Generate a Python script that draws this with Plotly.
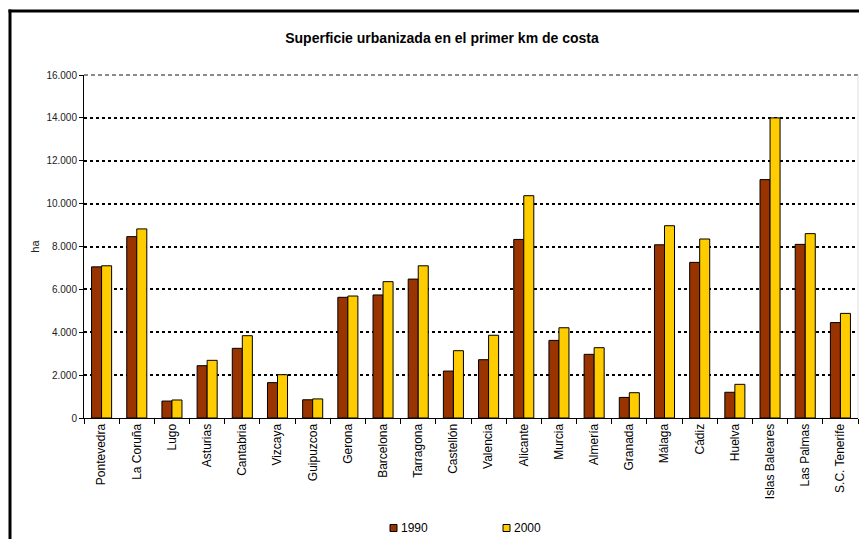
import plotly.graph_objects as go

provinces = ["Pontevedra", "La Coruña", "Lugo", "Asturias", "Cantabria", "Vizcaya",
             "Guipuzcoa", "Gerona", "Barcelona", "Tarragona", "Castellón", "Valencia",
             "Alicante", "Murcia", "Almería", "Granada", "Málaga", "Cádiz", "Huelva",
             "Islas Baleares", "Las Palmas", "S.C. Tenerife"]
v1990 = [7050, 8460, 790, 2440, 3250, 1650, 850, 5630, 5740, 6480, 2190, 2720,
         8330, 3620, 2970, 960, 8080, 7260, 1200, 11120, 8100, 4450]
v2000 = [7100, 8820, 840, 2690, 3840, 2020, 890, 5690, 6360, 7100, 3140, 3860,
         10370, 4210, 3280, 1180, 8970, 8350, 1570, 14000, 8600, 4880]
y_ticks = [0, 2000, 4000, 6000, 8000, 10000, 12000, 14000, 16000]
series_names = ["1990", "2000"]
series_colors = ["#993300", "#FFCC00"]

FONT = "Arial, Liberation Sans, sans-serif"

fig = go.Figure()
for name, vals, col in zip(series_names, [v1990, v2000], series_colors):
    fig.add_trace(go.Bar(name=name, x=provinces, y=vals, showlegend=False,
                         marker=dict(color=col, line=dict(color="black", width=1))))

W, H = 859, 539
L, R, T, B = 84, 1, 75, 121
pw = W - L - R
ph = H - T - B


def px(x):
    return (x - L) / pw


def py(y):
    return (H - B - y) / ph


shapes = [
    # outer chart border (left and top)
    dict(type="line", xref="paper", yref="paper", x0=px(10), x1=px(10), y0=py(9.5), y1=py(545),
         line=dict(color="black", width=3)),
    dict(type="line", xref="paper", yref="paper", x0=px(8.5), x1=px(870), y0=py(11), y1=py(11),
         line=dict(color="black", width=3)),
    # top border of plot area (grey dashed) and right edge
    dict(type="line", xref="paper", yref="paper", x0=0, x1=1, y0=1, y1=1,
         line=dict(color="#8a8a8a", width=2, dash="4px,3px")),
    dict(type="line", xref="paper", yref="paper", x0=1, x1=1, y0=0, y1=1,
         line=dict(color="#dddddd", width=1)),
]
annotations = []
# custom legend
leg_x = [390, 503]
leg_y = 528
for lx, name, col in zip(leg_x, series_names, series_colors):
    shapes.append(dict(type="rect", xref="paper", yref="paper",
                       x0=px(lx), x1=px(lx + 7), y0=py(leg_y - 3.5), y1=py(leg_y + 3.5),
                       fillcolor=col, line=dict(color="black", width=1)))
    annotations.append(dict(text=name, xref="paper", yref="paper", x=px(lx + 9), y=py(leg_y),
                            xanchor="left", yanchor="middle", showarrow=False,
                            font=dict(size=12, color="black", family=FONT)))

fig.update_layout(
    width=W, height=H,
    margin=dict(l=L, r=R, t=T, b=B),
    paper_bgcolor="white", plot_bgcolor="white",
    separators=",.",
    barmode="group", bargap=0.43, bargroupgap=0,
    font=dict(family=FONT, color="#222"),
    title=dict(text="<b>Superficie urbanizada en el primer km de costa</b>",
               x=442 / W, xanchor="center", y=1 - 38 / H, yanchor="middle",
               font=dict(size=14, color="black", family=FONT)),
    showlegend=False,
    xaxis=dict(showline=True, linecolor="black", linewidth=1, automargin=False,
               ticks="outside", tickson="boundaries", ticklen=5, tickcolor="black",
               tickangle=-90, tickfont=dict(size=12, color="black", family=FONT),
               showgrid=False),
    yaxis=dict(range=[0, 16000], tickvals=y_ticks, tickformat=",d", automargin=False,
               showline=True, linecolor="black", linewidth=1,
               ticks="outside", ticklen=4, tickcolor="black",
               tickfont=dict(size=10, color="#222", family=FONT),
               showgrid=True, gridcolor="black", gridwidth=2, griddash="dot",
               zeroline=False,
               title=dict(text="ha", font=dict(size=11, color="#222", family=FONT), standoff=4)),
    shapes=shapes,
    annotations=annotations,
)

fig.write_html("out.html")
